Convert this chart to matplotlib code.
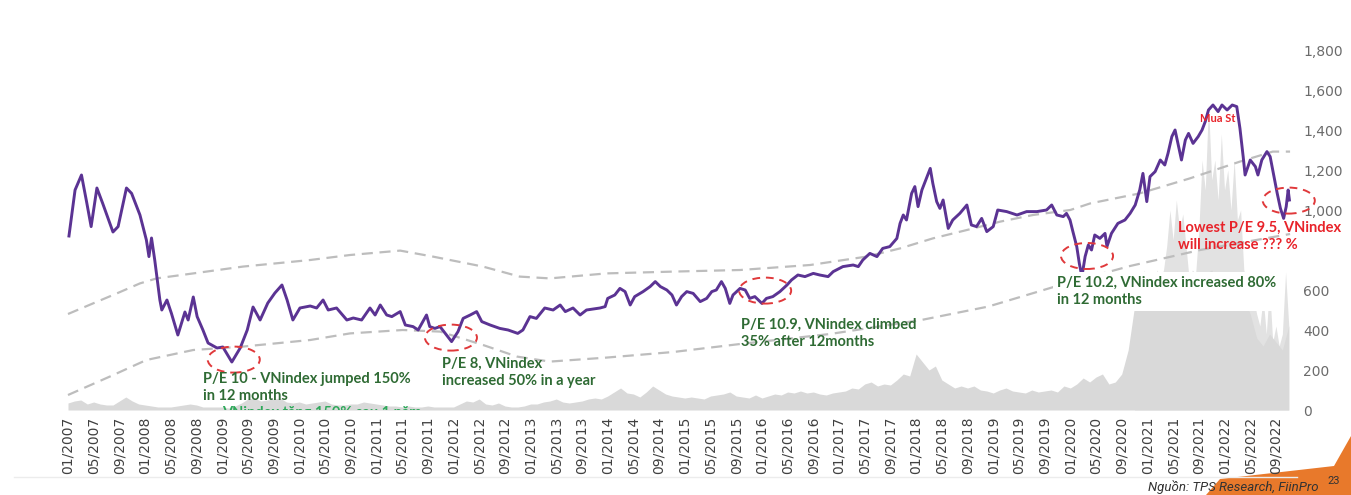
import numpy as np
import matplotlib.pyplot as plt
from matplotlib.patches import Ellipse, Polygon

# VNindex (x = months since 01/2007)
idx_month = [0.15, 1.1, 2.1, 2.9, 3.6, 4.5, 5.4, 7.0, 7.8, 9.1, 9.9, 11.2, 12.2, 12.6, 13.0, 13.5,
             14.3, 14.6, 15.4, 16.1, 17.1, 18.2, 18.7, 19.5, 20.1, 21.0, 21.8, 23.2, 24.1, 25.5,
             26.8, 27.9, 28.8, 29.9, 31.1, 32.2, 33.3, 34.1, 35.0, 36.1, 37.7, 38.7, 39.7, 40.5,
             41.8, 43.4, 44.4, 45.7, 47.0, 47.8, 48.6, 49.6, 50.4, 51.7, 52.5, 53.7, 54.5, 55.8,
             56.3, 57.1, 57.9, 58.9, 59.7, 60.7, 61.5, 62.6, 63.6, 64.4, 65.7, 67.2, 68.5, 70.0,
             70.8, 71.9, 72.9, 74.2, 75.5, 76.6, 77.4, 78.6, 79.7, 80.7, 82.8, 83.6, 84.0, 85.1,
             85.9, 86.7, 87.5, 88.2, 89.5, 90.6, 91.4, 92.2, 93.2, 94.0, 94.7, 95.5, 96.3, 97.3,
             98.4, 99.4, 100.2, 100.9, 101.7, 102.3, 103.0, 103.5, 104.6, 105.4, 106.1, 106.9,
             108.0, 108.7, 109.7, 110.8, 111.9, 112.6, 113.6, 114.7, 116.0, 117.0, 118.3, 119.1,
             120.6, 122.2, 123.0, 123.7, 124.8, 125.9, 126.8, 127.9, 129.0, 129.5, 130.0, 130.5,
             131.3, 131.8, 132.3, 132.9, 133.4, 134.2, 134.6, 135.2, 135.7, 136.2, 137.0, 137.7,
             138.8, 139.9, 140.6, 141.4, 142.2, 143.0, 144.0, 144.7, 146.1, 147.7, 149.2, 150.8,
             152.3, 153.1, 153.9, 154.9, 155.4, 155.95, 156.4, 157.0, 157.4, 157.8, 158.3, 158.8,
             159.3, 159.8, 160.6, 161.4, 161.7, 162.4, 163.4, 164.5, 165.3, 166.1, 166.8, 167.3,
             167.9, 168.4, 169.2, 170.0, 170.7, 171.2, 171.8, 172.3, 172.8, 173.3, 173.9, 174.4,
             175.1, 175.9, 176.5, 177.0, 177.5, 178.2, 179.0, 179.6, 180.4, 181.2, 181.9, 182.4,
             182.9, 183.2, 184.0, 184.8, 185.2, 185.8, 186.6, 187.1, 187.6, 188.2, 188.7, 189.2,
             189.6, 189.9, 190.1]
vnindex = [870, 1100, 1175, 1040, 917, 1110, 1033, 890, 917, 1110, 1083, 975, 850, 767, 860, 750,
           550, 500, 550, 483, 375, 490, 450, 565, 467, 400, 335, 310, 315, 240,
           310, 400, 515, 450, 535, 585, 625, 550, 450, 510, 520, 510, 550, 500,
           510, 450, 460, 450, 510, 475, 525, 475, 467, 492, 425, 417, 400, 475,
           417, 408, 417, 375, 342, 392, 458, 475, 492, 442, 425, 408, 400, 383,
           400, 467, 458, 510, 500, 525, 492, 510, 475, 500, 510, 517, 558, 575,
           608, 592, 525, 567, 592, 617, 642, 617, 600, 575, 525, 567, 592, 583,
           542, 558, 592, 600, 642, 608, 533, 575, 608, 600, 558, 567,
           533, 558, 567, 592, 625, 650, 675, 667, 683, 675, 667, 692,
           717, 725, 717, 750, 783, 767, 808, 817, 858, 933, 975, 950,
           1083, 1117, 1017, 1100, 1142, 1208, 1133, 1042, 1008, 1050, 908, 950,
           983, 1025, 925, 917, 958, 892, 917, 1000, 992, 975, 992, 992,
           1000, 1025, 975, 967, 983, 950, 892, 817, 733, 667, 767, 825,
           800, 875, 858, 883, 817, 883, 933, 950, 983, 1025, 1100, 1183,
           1042, 1167, 1192, 1250, 1225, 1283, 1367, 1400, 1325, 1250, 1350, 1383,
           1333, 1367, 1400, 1442, 1500, 1525, 1492, 1525, 1500, 1525, 1517, 1408,
           1267, 1175, 1250, 1217, 1175, 1250, 1292, 1267, 1183, 1083, 1008, 958,
           1017, 1100, 1050]

# P/E bands (dashed)
upper_month = [0, 3.9, 7.6, 11.2, 13.8, 19.5, 27.2, 37.7, 43.9, 51.7, 56.8, 64.6, 70.3, 75.0,
               83.8, 94.2, 104.6, 115.5, 124.3, 129.5, 134.6, 139.9, 145.1, 150.2, 156.0, 159.1,
               166.8, 174.6, 182.4, 187.5, 190.2]
upper_band = [480, 533, 583, 633, 658, 683, 717, 750, 775, 797, 767, 717, 667, 658,
              683, 692, 700, 725, 767, 808, 858, 900, 942, 975, 1000, 1033,
              1083, 1158, 1242, 1292, 1292]
lower_month = [0, 6.5, 12.2, 19.5, 27.2, 37.7, 43.9, 52.1, 57.9, 64.6, 69.9, 75.0, 83.8, 94.2,
               104.6, 118.6, 132.8, 143.2, 153.6, 165.3, 176.2, 190.2]
lower_band = [75, 167, 250, 300, 317, 350, 383, 400, 392, 325, 267, 242, 262, 290,
              330, 380, 450, 517, 617, 720, 800, 880]

# trading value, monthly
volume = [35, 45, 50, 30, 40, 30, 25, 25, 45, 65, 45, 30,            # 2007
          25, 20, 15, 15, 15, 20, 25, 30, 25, 15, 15, 15,            # 2008
          15, 10, 20, 35, 55, 60, 45, 50, 55, 60, 40, 35,            # 2009
          40, 30, 35, 40, 45, 30, 25, 25, 30, 30, 40, 35,            # 2010
          30, 25, 20, 20, 15, 20, 15, 15, 20, 15, 15, 15,            # 2011
          15, 30, 45, 40, 55, 30, 25, 35, 20, 15, 15, 20,            # 2012
          30, 30, 40, 45, 55, 40, 35, 40, 45, 55, 60, 55,            # 2013
          70, 90, 110, 85, 80, 65, 90, 120, 100, 80, 70, 65,         # 2014
          60, 65, 60, 55, 70, 75, 80, 90, 70, 65, 60, 75,            # 2015
          60, 70, 80, 75, 90, 85, 95, 85, 90, 80, 75, 85,            # 2016
          90, 95, 110, 105, 130, 140, 120, 130, 125, 150, 180, 170,  # 2017
          280, 240, 200, 220, 150, 130, 110, 120, 110, 120, 100, 95, # 2018
          85, 100, 110, 95, 90, 85, 100, 90, 95, 100, 90, 120,       # 2019
          110, 130, 160, 140, 165, 180, 130, 140, 180, 300, 520, 560,  # 2020
          600, 560, 580, 620, 650, 640, 600, 620, 640, 680, 700, 640,  # 2021
          620, 580, 600, 560, 480, 360, 320, 380, 340, 300, 420]       # 2022
vol_month = np.arange(len(volume))
# daily peaks 11/2020 - 11/2022, half-month steps
peak_month = np.arange(166, 190.01, 0.5)
peak_vol = [520, 650, 600, 700, 620, 690, 640, 700, 650, 700,
            820, 1000, 850, 1050, 900, 980, 820, 650, 700, 680,
            900, 1250, 1100, 1530, 1150, 1250, 1050, 1380, 1100, 1200,
            1000, 1250, 950, 1000, 700, 650, 600, 560, 480, 420,
            560, 380, 620, 340, 420, 320, 380, 690, 420]

# notes: ellipse centre (month, level), text anchor (month, level)
note_month = [25.8, 59.6, 108.5, 158.6, 190.0]
note_level = [252, 362, 597, 770, 1047]
note_text = ['P/E 10 - VNindex jumped 150%\nin 12 months',
             'P/E 8, VNindex\nincreased 50% in a year',
             'P/E 10.9, VNindex climbed\n35% after 12months',
             'P/E 10.2, VNindex increased 80%\nin 12 months',
             'Lowest P/E 9.5, VNindex\nwill increase ??? %']
text_month = [21.0, 58.2, 104.7, 153.9, 172.8]
text_level = [190, 265, 460, 670, 945]
text_color = ['#2f6b34', '#2f6b34', '#2f6b34', '#2f6b34', '#e8232a']

yticks = [0, 200, 400, 600, 1000, 1200, 1400, 1600, 1800]
xtick_month = list(range(0, 189, 4))
xtick_lab = ['%02d/%d' % (m % 12 + 1, 2007 + m // 12) for m in xtick_month]

plt.rcParams['font.family'] = ['DejaVu Sans']

fig = plt.figure(figsize=(13.51, 4.95), dpi=100)
ax = fig.add_axes([66/1351, 85/495, 1226/1351, 390/495])

ax.fill_between(peak_month, peak_vol, color='#e2e2e2', lw=0, zorder=1)
ax.fill_between(vol_month, volume, color='#d9d9d9', lw=0, zorder=1)
ax.plot(upper_month, upper_band, color='#bdbdbd', lw=1.6, dashes=(5, 3), zorder=2)
ax.plot(lower_month, lower_band, color='#bdbdbd', lw=1.6, dashes=(5, 3), zorder=2)
ax.plot(idx_month, vnindex, color='#5b3393', lw=2.1, zorder=3)

for i in range(len(note_text)):
    ax.add_patch(Ellipse((note_month[i], note_level[i]), 8.1, 130, fill=False,
                         ec='#e0393b', lw=1.4, ls=(0, (4, 3)), zorder=4, clip_on=False))
    bbox = None
    if i == 3:
        bbox = dict(boxstyle='square,pad=0.25', fc='white', ec='none')
    ax.text(text_month[i], text_level[i], note_text[i], color=text_color[i], family='Lato',
            fontweight='bold', fontsize=10.5, va='top', ha='left', linespacing=1.3,
            bbox=bbox, zorder=5, clip_on=False)

ax.text(176.2, 1455, 'Mua St', color='#e8232a', fontsize=8, fontweight='bold',
        family='Lato', va='center', zorder=5)
# half-hidden note below the volume, only its top shows
hid = ax.text(24, -36, 'VNindex tăng 150% sau 1 năm', color='#2ea85a', family='Lato',
              fontweight='bold', fontsize=10.5, va='baseline', zorder=5)
hid.set_clip_path(ax.patch)
hid.set_clip_on(True)

ax.set_xlim(-0.31, 190.5)
ax.set_ylim(0, 1950)
ax.set_xticks(xtick_month)
ax.set_xticklabels(xtick_lab, rotation=90, fontsize=10, color='#404040')
ax.yaxis.tick_right()
ax.set_yticks(yticks)
ax.set_yticklabels(['{:,}'.format(v) for v in yticks], fontsize=10, color='#6b6b6b')
ax.tick_params(length=0)
ax.tick_params(axis='x', pad=5)
ax.tick_params(axis='y', pad=8)
for s in ax.spines.values():
    s.set_visible(False)

fig.add_artist(plt.Line2D([0.01, 0.96], [1 - 477/495] * 2, color='#ececec', lw=1))
fig.add_artist(Polygon([(1206/1351, 0), (1220/1351, 1 - 479/495), (1334/1351, 1 - 466/495),
                        (1, 1 - 436/495), (1, 0)], closed=True,
                       fc='#e8792b', ec='none', transform=fig.transFigure, zorder=0))
fig.text(1148/1351, 1 - 487/495, 'Nguồn: TPS Research, FiinPro', fontsize=9.5,
         style='italic', color='#333333', va='center', family='Roboto')
fig.text(1327/1351, 1 - 481/495, '23', fontsize=8, color='#333333', va='center', family='Roboto')

fig.savefig('out.png', dpi=100, facecolor='white')
